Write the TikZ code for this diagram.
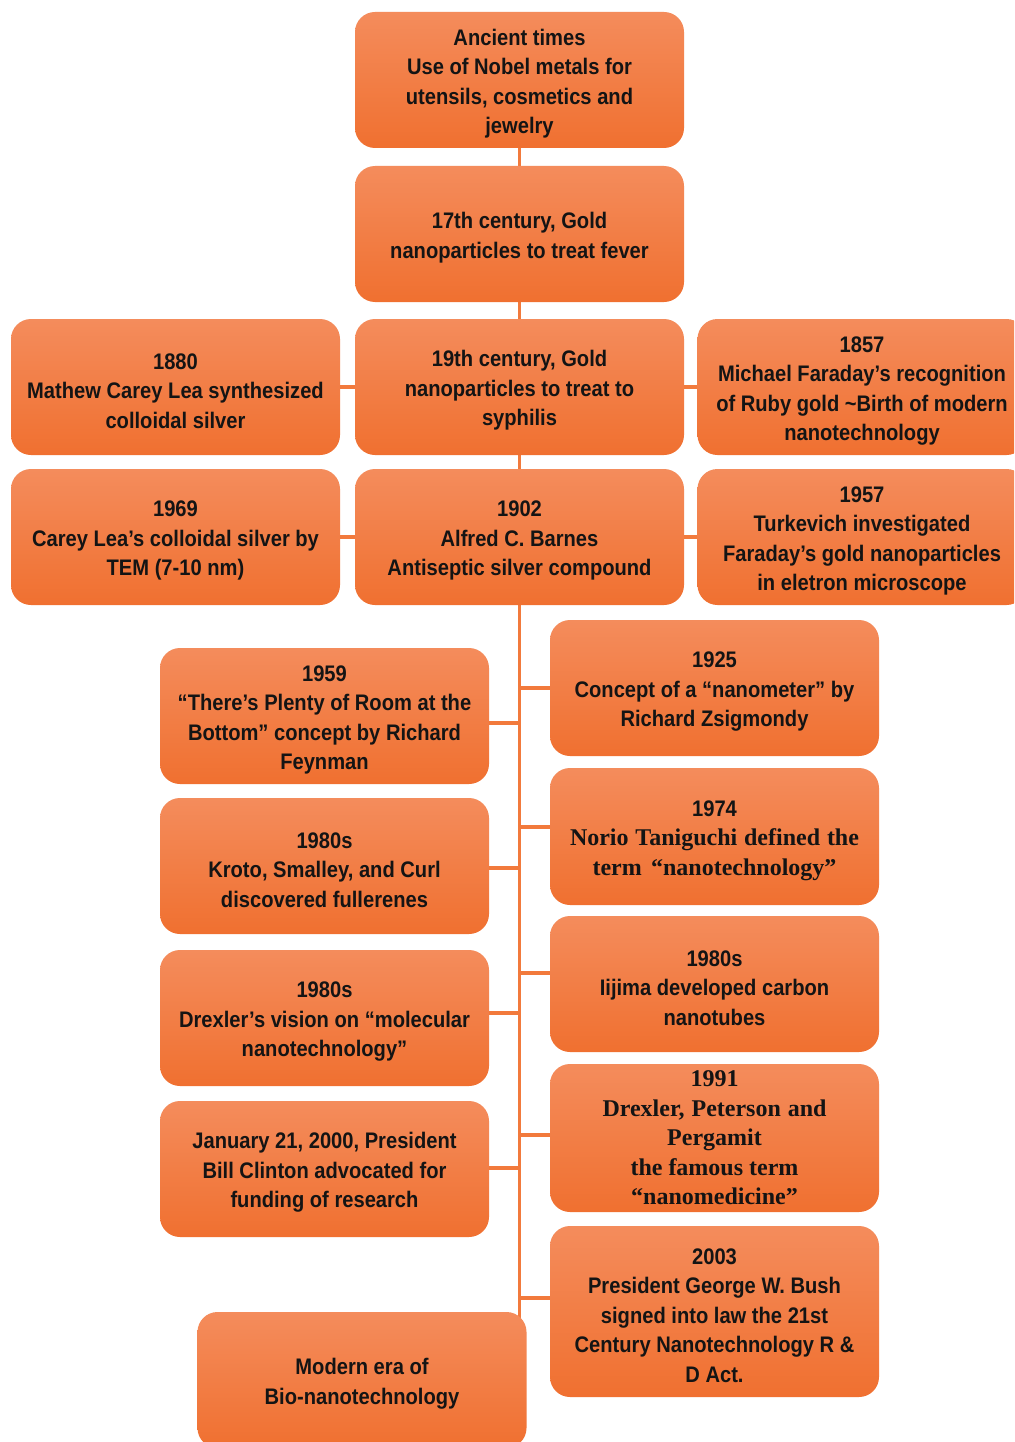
\documentclass[tikz,border=0pt]{standalone}
\usepackage{fontspec}
\setmainfont{Liberation Sans}[FakeStretch=0.895]
\newfontfamily\serifb{Liberation Serif}
\usetikzlibrary{backgrounds}
\definecolor{otop}{RGB}{244,140,92}
\definecolor{obot}{RGB}{240,112,48}
\definecolor{oline}{RGB}{242,122,60}
\definecolor{txt}{RGB}{20,20,20}
\tikzset{
  box/.style={rounded corners=20pt, top color=otop, bottom color=obot, draw=none,
    minimum width=329pt, minimum height=136pt, align=center, inner sep=0pt,
    text=txt, font=\bfseries\fontsize{22.5}{29.5}\selectfont},
  link/.style={draw=oline, line width=3.6pt}
}
\newcommand{\sfb}{\serifb\fontsize{24}{29.5}\selectfont}
\newcommand{\tp}{\rule{0pt}{23.5pt}}
\begin{document}
\begin{tikzpicture}[x=1pt,y=-1pt]
\useasboundingbox (0,0) rectangle (1014,1442);
\clip (0,0) rectangle (1014,1442);
% nodes
\node[box] (anc) at (519.5,80) {\tp Ancient times\\Use of Nobel metals for\\utensils, cosmetics and\\jewelry};
\node[box] (c17) at (519.5,234) {\tp 17th century, Gold\\nanoparticles to treat fever};
\node[box] (c19) at (519.5,387) {\tp 19th century, Gold\\nanoparticles to treat to\\syphilis};
\node[box] (y1880) at (175.5,387) {\tp 1880\\Mathew Carey Lea synthesized\\colloidal silver};
\node[box] (y1857) at (862,387) {\tp 1857\\Michael Faraday’s recognition\\of Ruby gold \textasciitilde Birth of modern\\nanotechnology};
\node[box] (y1902) at (519.5,537) {\tp 1902\\Alfred C. Barnes\\Antiseptic silver compound};
\node[box] (y1969) at (175.5,537) {\tp 1969\\Carey Lea’s colloidal silver by\\TEM (7-10 nm)};
\node[box] (y1957) at (862,537) {\tp 1957\\Turkevich investigated\\Faraday’s gold nanoparticles\\in eletron microscope};
\node[box] (y1925) at (714.5,688) {\tp 1925\\Concept of a “nanometer” by\\Richard Zsigmondy};
\node[box] (y1959) at (324.5,716) {\tp 1959\\“There’s Plenty of Room at the\\Bottom” concept by Richard\\Feynman};
\node[box, minimum height=137pt] (y1974) at (714.5,836.5) {\tp 1974\\{\sfb\makebox[289pt][s]{Norio Taniguchi defined the}}\\{\sfb\makebox[244pt][s]{term “nanotechnology”}}};
\node[box] (k1980) at (324.5,866) {\tp 1980s\\Kroto, Smalley, and Curl\\discovered fullerenes};
\node[box] (i1980) at (714.5,984) {\tp 1980s\\Iijima developed carbon\\nanotubes};
\node[box] (d1980) at (324.5,1018) {\tp 1980s\\Drexler’s vision on “molecular\\nanotechnology”};
\node[box, minimum height=148pt] (y1991) at (714.5,1138) {\sfb 1991\\{\sfb\makebox[224pt][s]{Drexler, Peterson and}}\\{\sfb Pergamit}\\{\sfb the famous term}\\{\sfb “nanomedicine”}};
\node[box] (y2000) at (324.5,1169) {\tp January 21, 2000, President\\Bill Clinton advocated for\\funding of research};
\node[box, minimum height=171pt] (y2003) at (714.5,1311.5) {\tp 2003\\President George W. Bush\\signed into law the 21st\\Century Nanotechnology R \&\\D Act.};
\node[box] (modern) at (362,1380) {\tp Modern era of\\Bio-nanotechnology};
% connectors
\coordinate (tb) at (519.5,1330);
\coordinate (a1) at (519.5,723);
\coordinate (a2) at (519.5,868);
\coordinate (a3) at (519.5,1013);
\coordinate (a4) at (519.5,1168);
\coordinate (b1) at (519.5,688);
\coordinate (b2) at (519.5,827);
\coordinate (b3) at (519.5,973);
\coordinate (b4) at (519.5,1135);
\coordinate (b5) at (519.5,1298);
\begin{scope}[on background layer]
\fill[white] (0,0) rectangle (1014,1442);
\draw[link] (anc.south) -- (tb);
\draw[link] (y1880.east) -- (c19.west);
\draw[link] (c19.east) -- (y1857.west);
\draw[link] (y1969.east) -- (y1902.west);
\draw[link] (y1902.east) -- (y1957.west);
\draw[link] (a1) -- (y1959.east |- a1);
\draw[link] (a2) -- (k1980.east |- a2);
\draw[link] (a3) -- (d1980.east |- a3);
\draw[link] (a4) -- (y2000.east |- a4);
\draw[link] (b1) -- (y1925.west |- b1);
\draw[link] (b2) -- (y1974.west |- b2);
\draw[link] (b3) -- (i1980.west |- b3);
\draw[link] (b4) -- (y1991.west |- b4);
\draw[link] (b5) -- (y2003.west |- b5);
\end{scope}
\end{tikzpicture}
\end{document}
